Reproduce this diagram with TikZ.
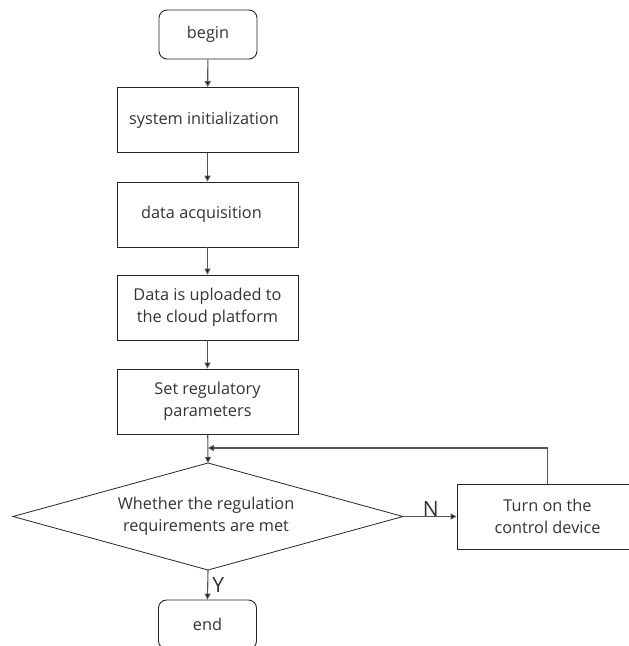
\documentclass[tikz,border=0pt]{standalone}
\usepackage{fontspec}
\setmainfont{Open Sans}
\usetikzlibrary{arrows.meta}
\definecolor{ink}{HTML}{333333}
\definecolor{wire}{HTML}{555555}
\begin{document}
\begin{tikzpicture}[x=1pt,y=-1pt,
  every node/.style={font=\fontsize{16.3}{22}\selectfont, text=ink, align=center, inner sep=0pt},
  stepbox/.style={draw=black!85, line width=0.9pt, minimum width=181pt, minimum height=65pt},
  termbox/.style={draw=black!85, line width=0.9pt, rounded corners=8pt, minimum width=98pt, minimum height=49pt},
  testedge/.style={draw=black!85, line width=0.8pt, line join=miter},
  flow/.style={draw=wire, line width=1.1pt, -{Triangle[length=6pt,width=6pt,fill=black]}},
  branch/.style={font=\fontsize{21}{22}\selectfont, text=ink}]
\useasboundingbox (0,0) rectangle (629,646);
\clip (0,0) rectangle (629,646);

% main column of steps
\node[termbox] (begin) at (208,34.5) {begin};
\node[stepbox] (init) at (207.5,120) {system initialization\hspace*{7pt}};
\node[stepbox] (acq) at (207.5,214.5) {data acquisition\hspace*{12pt}};
\node[stepbox] (upload) at (207.5,307.5) {Data is uploaded to\\the cloud platform};
\node[stepbox] (param) at (207.5,401.5) {Set regulatory\\parameters};

% decision diamond: corners as named coordinates, text as a node
\coordinate (ctop) at (208,463);
\coordinate (cright) at (403,516.5);
\coordinate (cbot) at (208,570);
\coordinate (cleft) at (13,516.5);
\draw[testedge] (ctop) -- (cright) -- (cbot) -- (cleft) -- cycle;
\node (check) at (206,516.5) {Whether the regulation\\requirements are met};

\node[stepbox] (ctrl) at (547.5,516.5) {Turn on the\\control device};
\node[termbox] (end) at (207.5,624.5) {end};

% merge point of the feedback loop
\coordinate (merge) at (208,448);

\draw[flow] (begin) -- (init);
\draw[flow] (init) -- (acq);
\draw[flow] (acq) -- (upload);
\draw[flow] (upload) -- (param);
\draw[flow] (param) -- (ctop);
\draw[flow] (cright) -- node[branch, above, pos=0.52, yshift=-1pt] (nlab) {N} (ctrl.west);
\draw[flow] (cbot) -- node[branch, right, pos=0.5, xshift=4pt] (ylab) {Y} (end.north);
\draw[flow] (ctrl.north) |- (merge);
\end{tikzpicture}
\end{document}
